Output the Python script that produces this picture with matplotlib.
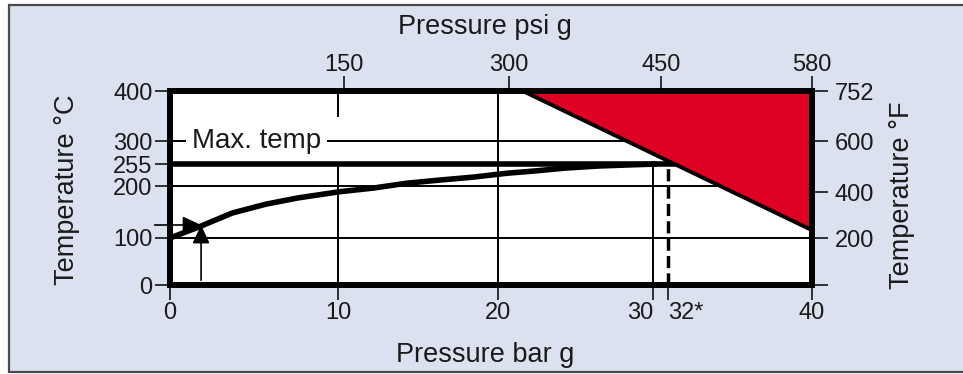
import numpy as np
import matplotlib
matplotlib.use("Agg")
import matplotlib.pyplot as plt
from matplotlib.patches import Polygon, Rectangle

plt.rcParams['font.family'] = ['Liberation Sans', 'DejaVu Sans']

# ---------------- data ----------------
BAR_TICKS = [0, 10, 20, 30, 32, 40]
BAR_TICK_LABELS = ['0', '10', '20', '30', '32*', '40']
PSI_TICKS = [150, 300, 450, 580]
BAR_TO_PSI = 14.5
TEMP_C_TICKS = [0, 100, 200, 255, 300, 400]
TEMP_F_LABELS = ['', '200', '400', '600', '752']
TEMP_F_AT_C = [0, 100, 188, 300, 400]

CURVE_BAR = [0, 1.7, 3.7, 5.7, 7.6, 10.1, 12.2, 14.3, 16.4, 18.4, 20.6, 22.2, 24.4, 26.5, 28.7, 30.5]
CURVE_TEMP = [100, 121, 148, 165, 177, 189, 196, 207, 215, 222, 232, 237, 245, 250, 253, 255]

MAX_TEMP = 255
MAX_PRESSURE = 32
GRID_TEMPS = [100, 200, 300]
VLINE_BAR = [10, 10, 20, 30]
VLINE_LOW = [0, 348, 0, 0]
VLINE_HIGH = [255, 400, 400, 255]

RED_ZONE_BAR = [21.6, 40, 40]
RED_ZONE_TEMP = [400, 400, 115]

ARROW_POINT = (1.85, 125)
ARROW_START_TEMP = 10

# ---------------- axis layout (uneven schematic scale) ----------------
X_BREAKS = [0, 10, 20, 30, 32, 40]
X_SPAN = [0, 168, 328, 483, 498, 642]
Y_BREAKS = [0, 100, 200, 255, 300, 400]
Y_SPAN = [0, 47, 99, 121, 144, 194]


def piecewise(kx, ky):
    kx = np.asarray(kx, float)
    ky = np.asarray(ky, float)
    s0 = (ky[1] - ky[0]) / (kx[1] - kx[0])
    s1 = (ky[-1] - ky[-2]) / (kx[-1] - kx[-2])

    def f(v):
        v = np.asarray(v, float)
        out = np.interp(v, kx, ky)
        out = np.where(v < kx[0], ky[0] + (v - kx[0]) * s0, out)
        out = np.where(v > kx[-1], ky[-1] + (v - kx[-1]) * s1, out)
        return out
    return f


fx, fxi = piecewise(X_BREAKS, X_SPAN), piecewise(X_SPAN, X_BREAKS)
fy, fyi = piecewise(Y_BREAKS, Y_SPAN), piecewise(Y_SPAN, Y_BREAKS)

W, H = 963, 374
fig = plt.figure(figsize=(W / 100, H / 100), dpi=100)
fig.patch.set_facecolor('white')
bg = Rectangle((9 / W, 2 / H), 1.0, 369 / H - 2 / H, transform=fig.transFigure,
               facecolor='#dce1f0', edgecolor='#4a4a4a', lw=1.6, zorder=-10)
fig.patches.append(bg)

ax = fig.add_axes([170 / W, (H - 285) / H, 642 / W, 194 / H])
ax.set_facecolor('white')
ax.set_xscale('function', functions=(fx, fxi))
ax.set_yscale('function', functions=(fy, fyi))
ax.set_xlim(0, 40)
ax.set_ylim(0, 400)

# grid lines
for t in GRID_TEMPS:
    ax.axhline(t, color='black', lw=1.4, zorder=1)
for xb, lo, hi in zip(VLINE_BAR, VLINE_LOW, VLINE_HIGH):
    ax.plot([xb, xb], [lo, hi], color='black', lw=1.4, zorder=1, solid_capstyle='butt')
ax.plot([MAX_PRESSURE, MAX_PRESSURE], [0, MAX_TEMP], color='black', lw=2.5,
        dashes=(3.5, 1.5), zorder=1)
ax.axhline(MAX_TEMP, color='black', lw=4, zorder=2)

# saturation curve
ax.plot(CURVE_BAR, CURVE_TEMP, color='black', lw=4, zorder=3,
        solid_capstyle='butt', solid_joinstyle='round')

# red zone
ax.add_patch(Polygon(list(zip(RED_ZONE_BAR, RED_ZONE_TEMP)), closed=True,
                     facecolor='#dd0022', edgecolor='none', zorder=4))
ax.plot(RED_ZONE_BAR[::2], RED_ZONE_TEMP[::2], color='black', lw=2.8, zorder=5)

# Max. temp label
ax.text(1.3, 300, 'Max. temp', fontsize=20, va='center', ha='left', color='#1a1a1a',
        bbox=dict(facecolor='white', edgecolor='none', pad=4), zorder=2)

# arrows
astyle = '-|>,head_length=0.75,head_width=0.35'
ax.annotate('', xy=ARROW_POINT, xycoords='data', xytext=(-0.024, ARROW_POINT[1]),
            textcoords=('axes fraction', 'data'), annotation_clip=False,
            arrowprops=dict(arrowstyle=astyle, mutation_scale=15, lw=1.2, color='black',
                            shrinkA=0, shrinkB=0), zorder=6)
ax.annotate('', xy=ARROW_POINT, xycoords='data', xytext=(ARROW_POINT[0], ARROW_START_TEMP),
            textcoords='data',
            arrowprops=dict(arrowstyle=astyle, mutation_scale=15, lw=1.2, color='black',
                            shrinkA=0, shrinkB=0), zorder=6)

for s in ax.spines.values():
    s.set_linewidth(4.3)
    s.set_zorder(10)

ax.set_xticks(BAR_TICKS, BAR_TICK_LABELS)
ax.set_yticks(TEMP_C_TICKS, [str(t) for t in TEMP_C_TICKS])
ax.minorticks_off()
ax.tick_params(axis='both', direction='out', length=10.5, width=1.1, labelsize=17,
               colors='black', labelcolor='#1a1a1a', top=False, right=False)
ax.tick_params(axis='x', pad=1.5)
ax.tick_params(axis='y', pad=2)
xl = ax.get_xticklabels()
xl[3].set_ha('right')
xl[4].set_ha('left')

# top psi axis
ax_top = ax.twiny()
ax_top.set_xscale('function', functions=(fx, fxi))
ax_top.set_xlim(0, 40)
ax_top.set_xticks(np.array(PSI_TICKS) / BAR_TO_PSI, [str(p) for p in PSI_TICKS])
ax_top.minorticks_off()
ax_top.tick_params(axis='x', direction='out', length=10.5, width=1.1, labelsize=17,
                   labelcolor='#1a1a1a', pad=0.5)
for s in ax_top.spines.values():
    s.set_visible(False)

# right °F axis
ax_r = ax.twinx()
ax_r.set_yscale('function', functions=(fy, fyi))
ax_r.set_ylim(0, 400)
ax_r.set_yticks(TEMP_F_AT_C, TEMP_F_LABELS)
ax_r.minorticks_off()
ax_r.tick_params(axis='y', direction='out', length=11.5, width=1.1, labelsize=17,
                 labelcolor='#1a1a1a', pad=5)
for s in ax_r.spines.values():
    s.set_visible(False)

# axis labels
ax.set_xlabel('Pressure bar g', fontsize=19.5, color='#1a1a1a')
ax.xaxis.set_label_coords(0.4907, -0.361)
ax.xaxis.label.set_va('center')
ax_top.set_xlabel('Pressure psi g', fontsize=19.5, color='#1a1a1a')
ax_top.xaxis.set_label_coords(0.4907, 1.33)
ax_top.xaxis.label.set_va('center')
ax.set_ylabel('Temperature °C', fontsize=19.5, color='#1a1a1a')
ax.yaxis.set_label_coords(-0.160, 0.49)
ax.yaxis.label.set_va('center')
ax_r.set_ylabel('Temperature °F', fontsize=19.5, color='#1a1a1a')
ax_r.yaxis.set_label_coords(1.140, 0.464)
ax_r.yaxis.label.set_va('center')

fig.savefig('out.png', dpi=100)
